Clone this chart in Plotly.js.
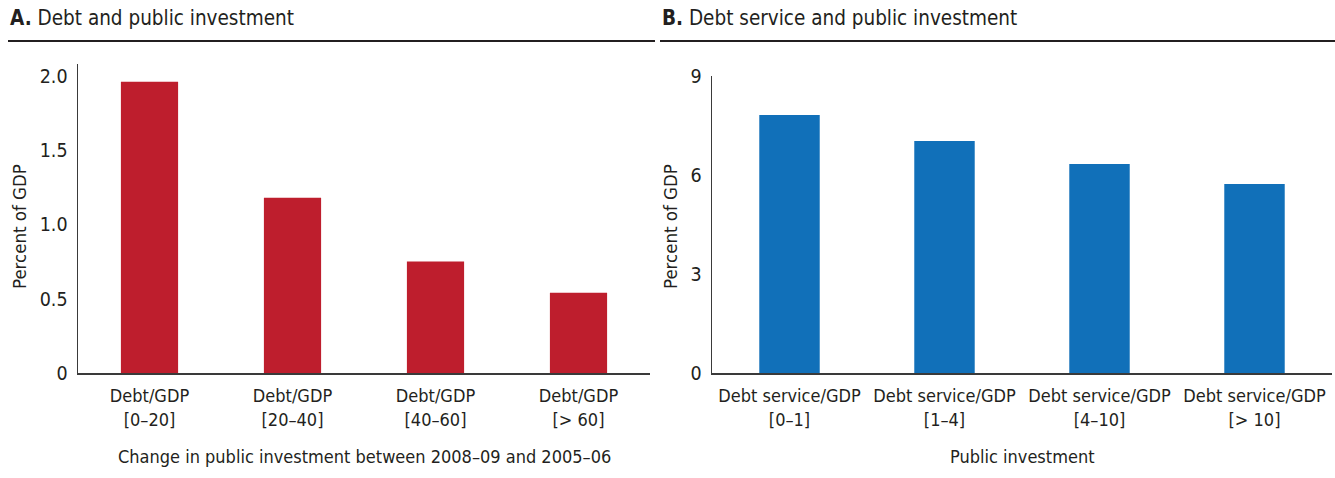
<!DOCTYPE html>
<html>
<head>
<meta charset="utf-8">
<script src="https://cdn.plot.ly/plotly-3.0.1.min.js"></script>
<style>html,body{margin:0;padding:0;background:#fff;}#chart{width:1335px;height:478px;}</style>
</head>
<body>
<div id="chart"></div>
<script>
// Panel A data
const catsA = ["Debt/GDP<br>[0–20]", "Debt/GDP<br>[20–40]", "Debt/GDP<br>[40–60]", "Debt/GDP<br>[> 60]"];
const valsA = [1.96, 1.18, 0.75, 0.54];
const tickValsA = [0, 0.5, 1.0, 1.5, 2.0];
const tickTextA = ["0", "0.5", "1.0", "1.5", "2.0"];

// Panel B data
const catsB = ["Debt service/GDP<br>[0–1]", "Debt service/GDP<br>[1–4]", "Debt service/GDP<br>[4–10]", "Debt service/GDP<br>[> 10]"];
const valsB = [7.82, 7.03, 6.33, 5.73];
const tickValsB = [0, 3, 6, 9];
const tickTextB = ["0", "3", "6", "9"];

const FONT = "'Liberation Sans Narrow', 'DejaVu Sans Condensed', 'Open Sans', sans-serif";
const TXT = "#231f20";
const W = 1335, H = 478;
const px = v => v / W;
const py = v => 1 - v / H;

const traces = [
  {type: "bar", x: catsA, y: valsA, xaxis: "x", yaxis: "y", marker: {color: "#be1e2d"}, width: 0.4, hoverinfo: "none"},
  {type: "bar", x: catsB, y: valsB, xaxis: "x2", yaxis: "y2", marker: {color: "#1170b9"}, width: 0.39, hoverinfo: "none"}
];

const axisCommon = {
  showgrid: false, zeroline: false, showline: true, linecolor: "#3a3a3a", linewidth: 1.5,
  ticks: "", tickfont: {family: FONT, size: 18, color: TXT}, fixedrange: true
};
const yTickFont = {family: FONT, size: 19.5, color: TXT};

const layout = {
  width: W, height: H, margin: {l: 0, r: 0, t: 0, b: 0},
  paper_bgcolor: "#fff", plot_bgcolor: "#fff", showlegend: false, bargap: 0.6,
  font: {family: FONT, color: TXT},
  xaxis: Object.assign({}, axisCommon, {domain: [px(78), px(650)], anchor: "y", type: "category", range: [-0.5, 3.5], ticklabelstandoff: 6}),
  yaxis: Object.assign({}, axisCommon, {domain: [py(373), py(64)], anchor: "x", range: [0, 2.08], tickvals: tickValsA, ticktext: tickTextA, ticklabelstandoff: 5, tickfont: yTickFont}),
  xaxis2: Object.assign({}, axisCommon, {domain: [px(712), px(1332)], anchor: "y2", type: "category", range: [-0.5, 3.5], ticklabelstandoff: 6}),
  yaxis2: Object.assign({}, axisCommon, {domain: [py(373), py(76)], anchor: "x2", range: [0, 9], tickvals: tickValsB, ticktext: tickTextB, ticklabelstandoff: 5, tickfont: yTickFont}),
  shapes: [
    {type: "line", xref: "paper", yref: "paper", x0: px(8), x1: px(655), y0: py(41), y1: py(41), line: {color: "#231f20", width: 2}},
    {type: "line", xref: "paper", yref: "paper", x0: px(660), x1: px(1335), y0: py(41), y1: py(41), line: {color: "#231f20", width: 2}}
  ],
  annotations: [
    {xref: "paper", yref: "paper", x: px(8), y: py(18), xanchor: "left", yanchor: "middle", showarrow: false,
     text: "<b>A.</b> Debt and public investment", font: {family: FONT, size: 20.5, color: TXT}},
    {xref: "paper", yref: "paper", x: px(660), y: py(18), xanchor: "left", yanchor: "middle", showarrow: false,
     text: "<b>B.</b> Debt service and public investment", font: {family: FONT, size: 20.5, color: TXT}},
    {xref: "paper", yref: "paper", x: px(19), y: py(227), xanchor: "center", yanchor: "middle", showarrow: false, textangle: -90,
     text: "Percent of GDP", font: {family: FONT, size: 18.5, color: TXT}},
    {xref: "paper", yref: "paper", x: px(670), y: py(227), xanchor: "center", yanchor: "middle", showarrow: false, textangle: -90,
     text: "Percent of GDP", font: {family: FONT, size: 18.5, color: TXT}},
    {xref: "paper", yref: "paper", x: px(364), y: py(456), xanchor: "center", yanchor: "middle", showarrow: false,
     text: "Change in public investment between 2008–09 and 2005–06", font: {family: FONT, size: 18, color: TXT}},
    {xref: "paper", yref: "paper", x: px(1022), y: py(456), xanchor: "center", yanchor: "middle", showarrow: false,
     text: "Public investment", font: {family: FONT, size: 18, color: TXT}}
  ]
};

Plotly.newPlot("chart", traces, layout, {displayModeBar: false, staticPlot: true});
</script>
</body>
</html>
